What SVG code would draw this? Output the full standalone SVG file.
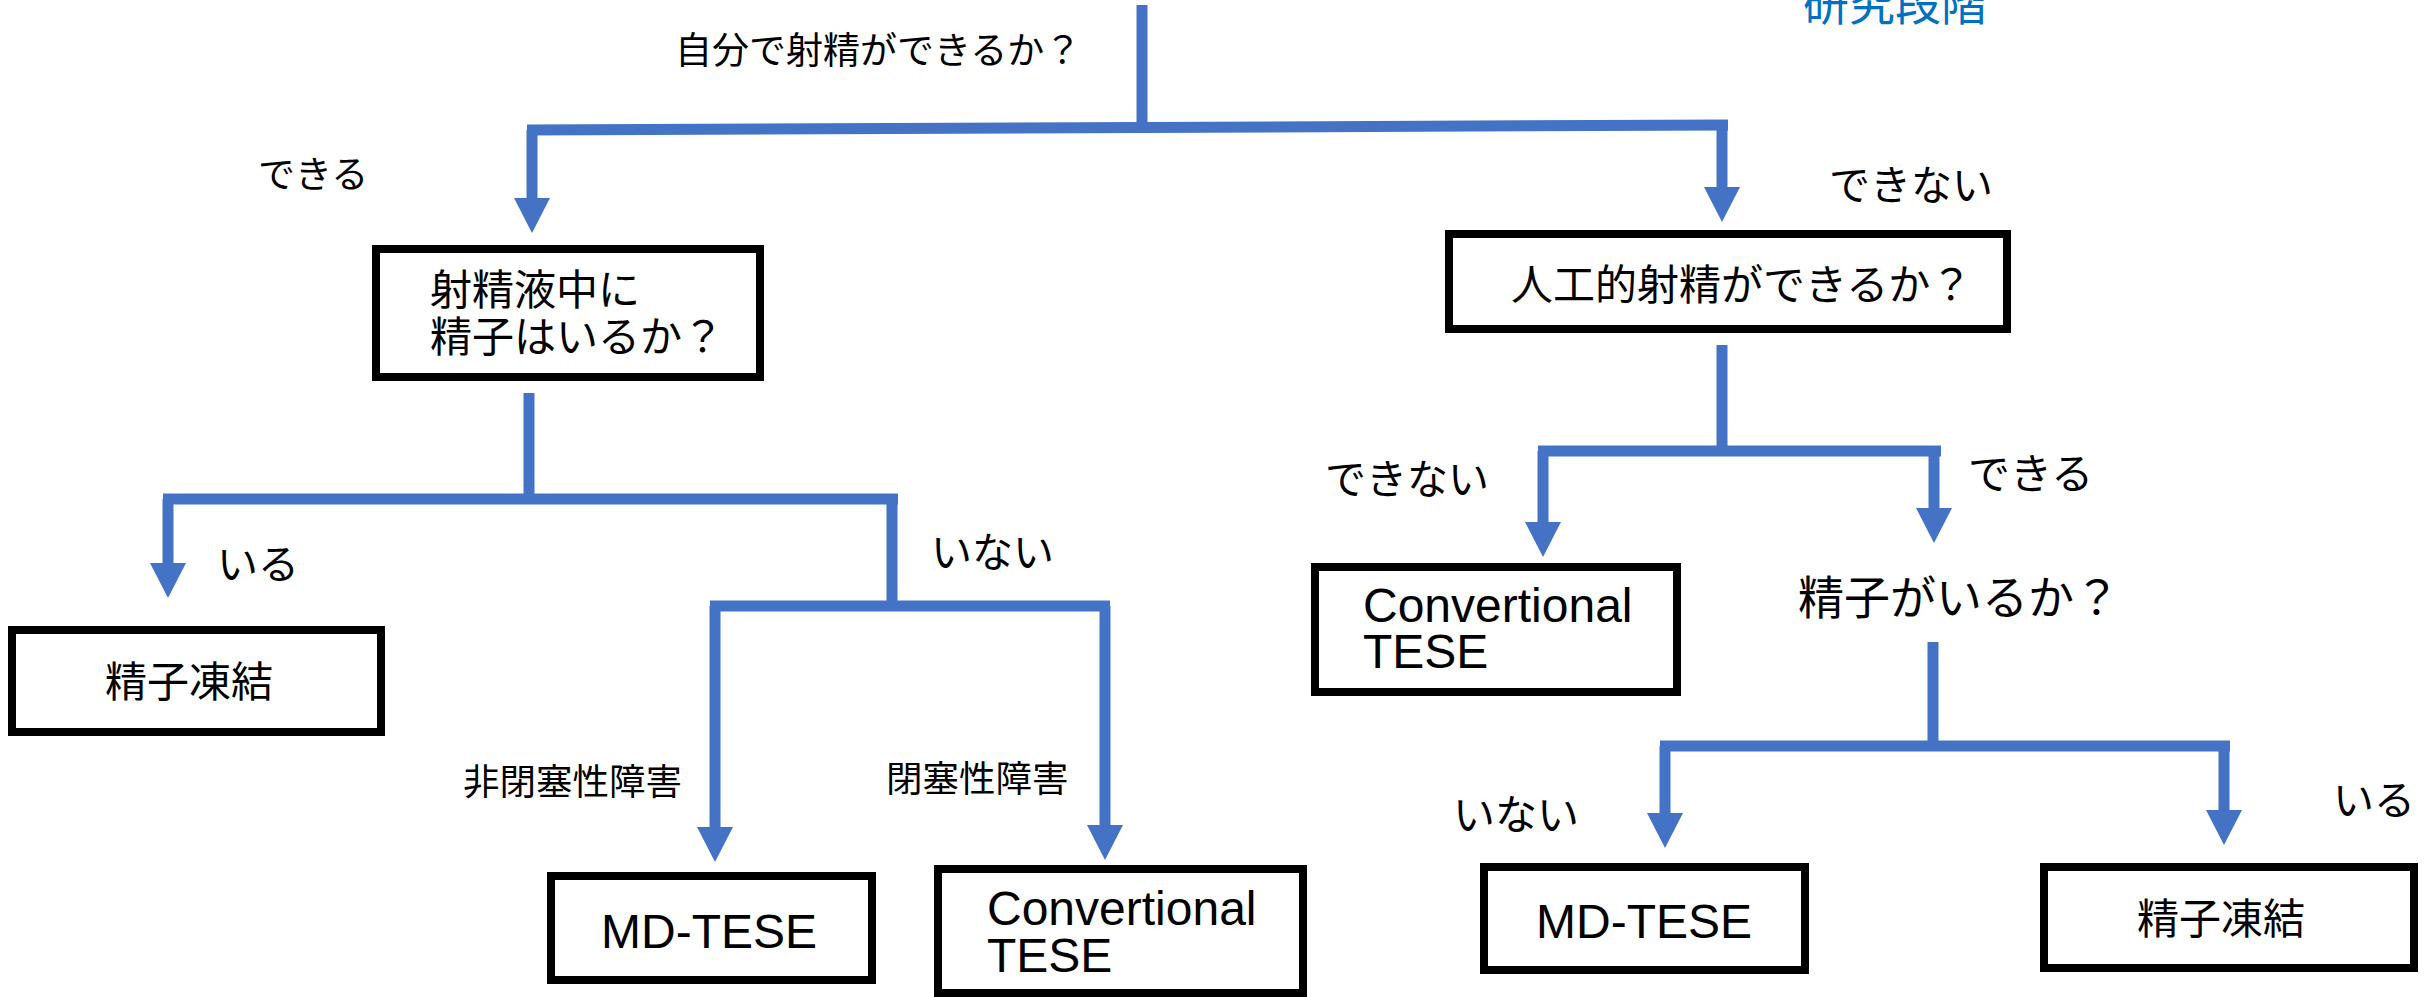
<svg xmlns="http://www.w3.org/2000/svg" width="2432" height="997" viewBox="0 0 2432 997">
<style>
.bg{fill:#ffffff}
.box{fill:#ffffff;stroke:#000000;stroke-width:8}
.t{font-family:"Noto Sans CJK JP","Liberation Sans",sans-serif;fill:#000000}
.l{font-family:"Liberation Sans","Noto Sans CJK JP",sans-serif;fill:#000000;font-size:48px}
.c{fill:none;stroke:#4472C4;stroke-width:11;stroke-linejoin:miter;stroke-linecap:butt}
.blue{font-family:"Noto Sans CJK JP",sans-serif;fill:#0070C0;font-size:46px}
</style>
<defs>
<marker id="ah" viewBox="0 -18 35 36" refX="0" refY="0" markerWidth="35" markerHeight="36" markerUnits="userSpaceOnUse" orient="auto">
<path d="M0,-18 L35,0 L0,18 Z" fill="#4472C4"/>
</marker>
</defs>
<rect class="bg" x="0" y="0" width="2432" height="997"/>

<text class="blue" x="1803" y="20">研究段階</text>

<g id="connectors">
<path class="c" d="M1142,5 V128"/>
<path class="c" d="M527,130 L1728,125"/>
<path class="c" d="M532,130 V198" marker-end="url(#ah)"/>
<path class="c" d="M1722,125 V187" marker-end="url(#ah)"/>

<path class="c" d="M529,393 V499"/>
<path class="c" d="M163,499 H898"/>
<path class="c" d="M168,499 V563" marker-end="url(#ah)"/>
<path class="c" d="M892,499 V606"/>
<path class="c" d="M710,606 H1110"/>
<path class="c" d="M715,606 V827" marker-end="url(#ah)"/>
<path class="c" d="M1105,606 V825" marker-end="url(#ah)"/>

<path class="c" d="M1722,345 V451"/>
<path class="c" d="M1538,451 H1941"/>
<path class="c" d="M1543,451 V522" marker-end="url(#ah)"/>
<path class="c" d="M1934,451 V508" marker-end="url(#ah)"/>

<path class="c" d="M1933,642 V746"/>
<path class="c" d="M1660,746 H2230"/>
<path class="c" d="M1665,746 V813" marker-end="url(#ah)"/>
<path class="c" d="M2224,746 V810" marker-end="url(#ah)"/>
</g>

<g id="labels">
<text class="t" x="675" y="64" font-size="37">自分で射精ができるか？</text>
<text class="t" x="258" y="188" font-size="37">できる</text>
<text class="t" x="1829" y="200" font-size="41">できない</text>
<text class="t" x="1325" y="494" font-size="41">できない</text>
<text class="t" x="1968" y="489" font-size="42">できる</text>
<text class="t" x="217" y="579" font-size="41">いる</text>
<text class="t" x="931" y="567" font-size="41">いない</text>
<text class="t" x="463" y="795" font-size="36.5">非閉塞性障害</text>
<text class="t" x="886" y="792" font-size="36.5">閉塞性障害</text>
<text class="t" x="1453" y="830" font-size="42">いない</text>
<text class="t" x="2333" y="815" font-size="41">いる</text>
</g>

<g id="n_q1">
<rect class="box" x="376" y="249" width="384" height="128"/>
<text class="t" x="430" y="305" font-size="42">射精液中に</text>
<text class="t" x="430" y="352" font-size="42">精子はいるか？</text>
</g>

<g id="n_q2">
<rect class="box" x="1449" y="234" width="558" height="95"/>
<text class="t" x="1511" y="300" font-size="42">人工的射精ができるか？</text>
</g>

<g id="n_q3">
<text class="t" x="1798" y="614" font-size="46">精子がいるか？</text>
</g>

<g id="n_freeze1">
<rect class="box" x="12" y="630" width="369" height="102"/>
<text class="t" x="105" y="697" font-size="42">精子凍結</text>
</g>

<g id="n_md1">
<rect class="box" x="551" y="876" width="321" height="104"/>
<text class="l" x="601" y="948">MD-TESE</text>
</g>

<g id="n_conv1">
<rect class="box" x="938" y="869" width="365" height="124"/>
<text class="l" x="987" y="925">Convertional</text>
<text class="l" x="987" y="972">TESE</text>
</g>

<g id="n_conv2">
<rect class="box" x="1315" y="567" width="362" height="125"/>
<text class="l" x="1363" y="622">Convertional</text>
<text class="l" x="1363" y="668">TESE</text>
</g>

<g id="n_md2">
<rect class="box" x="1484" y="867" width="321" height="103"/>
<text class="l" x="1536" y="938">MD-TESE</text>
</g>

<g id="n_freeze2">
<rect class="box" x="2044" y="867" width="370" height="101"/>
<text class="t" x="2137" y="934" font-size="42">精子凍結</text>
</g>
</svg>
